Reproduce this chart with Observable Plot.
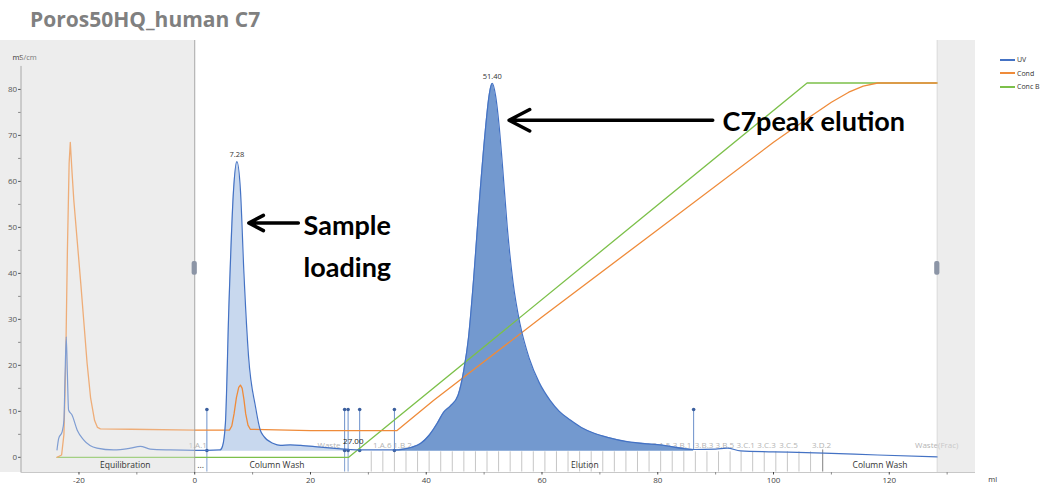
<!DOCTYPE html>
<html><head><meta charset="utf-8">
<script src="https://cdn.jsdelivr.net/npm/d3@7"></script>
<script src="https://cdn.jsdelivr.net/npm/@observablehq/plot@0.6"></script>
<style>
html,body{margin:0;padding:0;background:#fff;}
body{width:1050px;height:484px;overflow:hidden;position:relative;font-family:"Open Sans",sans-serif;}
#title{height:40px;box-sizing:border-box;padding:5px 0 0 30px;font:bold 21px "Open Sans";color:#808080;}
#legend{position:absolute;left:1000px;top:53px;font:7px "Open Sans";color:#333;line-height:13.6px;}
#legend div{display:flex;align-items:center;}
#legend span.l{display:inline-block;width:15px;height:2px;margin-right:2px;}
</style></head>
<body>
<div id="title">Poros50HQ_human C7</div>
<div id="chart"></div>
<div id="legend"></div>
<script>
// ---- data (ml, value) ----
const uvMl  = [-23.8,-23.5,-22.9,-22.6,-22.4,-22.2,-22.0,-21.8,-21.2,-20.3,-19.2,-16.9,-14.0,-11.1,-9.4,-7.7,-4.2,0,2.1,4.4,4.8,5.3,5.9,6.7,7.28,7.9,8.5,9.3,10.5,11.3,11.9,13.6,14.8,16.5,18.3,21.7,25.7,26.8,28.6,30.3,34.4,36.1,37.5,39.0,40.5,41.9,43.0,44.2,45.5,46.5,47.3,48.2,49.2,50.2,50.9,51.4,52.0,52.6,53.2,54.0,55.0,56.2,57.8,59.5,61.4,63.0,64.9,66.8,68.9,71.5,74.7,80.4,86.2,90,92,94.3,100,108.7,118,128.3];
const uvVal = [1.6,4.1,5.6,8,18,26.2,18,10.3,9.2,5.9,3.8,2.0,1.6,2.0,2.4,1.8,1.6,1.5,1.5,1.6,2.4,7.4,32.7,58,64.3,58,40,21.9,11,6.0,4.6,3.0,2.6,2.7,2.6,2.2,1.8,1.7,1.6,1.6,1.6,1.8,2.2,3.0,4.8,7.4,9.8,11.2,13.5,19,26,39,56,71,79,81.3,78.5,72,63,50,38,29,21.5,16.3,12.4,10.0,8.1,6.5,5.3,4.3,3.4,2.7,1.7,1.8,2.0,1.4,1.2,0.9,0.5,0.1];

const condMl  = [-23.8,-23.0,-22.6,-22.3,-22.0,-21.7,-21.5,-21.2,-20.9,-20.3,-19.7,-19.1,-18.6,-18.0,-17.3,-16.8,-16.3,-11,0,6.0,6.4,6.8,7.2,7.6,7.9,8.2,8.5,8.8,9.2,9.6,20,34.9,41.3,60,80,100,106,110,113,115.5,118,128.3];
const condVal = [0,0.5,5,20,45,64,68.5,62,56,47,38,28.5,20.5,13,8,6.5,6.2,6.1,5.9,5.9,6.8,9.5,13,15.2,15.7,15.0,12.6,9.5,7.0,6.1,5.8,5.8,12.4,30.5,49.5,68.5,73.8,77.2,79.4,80.7,81.4,81.4];

const concBMl  = [-23.8,26.6,105.8,128.3];
const concBVal = [0,0,81.4,81.4];

const fillRanges = [[4.4,26.8,"#c8d8ee"],[34.4,86.2,"#7399cf"]];

const markerMl = [2.1,25.9,26.5,28.5,34.5,86.2];
const dividerMl = [2.1,25.9,26.5];
const fracTicks = [30.5,32.5,34.5,36.5,38.5,40.5,42.5,44.5,46.5,48.5,50.5,52.5,54.5,56.5,58.5,60.5,62.5,64.5,66.5,68.5,70.5,72.5,74.5,76.5,78.5,80.5,82.5,84.5,86.5,88.5,90.5,92.5,94.4,96.4,98.4,100.4,102.4,104.4,106.4];

const fracLabels = ["1.A.1","Waste","1.A.6","1.B.2","1.B.4","1.B.6","1.C.2","1.C.4","1.C.6","1.D.2","1.D.4","1.D.6","3.A.1","3.A.3","3.A.5","3.B.1","3.B.3","3.B.5","3.C.1","3.C.3","3.C.5","3.D.2","Waste(Frac)"];
const fracLabelMl = [0.5,23.2,32.4,35.9,40.4,44.4,48.2,52.2,56.3,60.0,63.6,67.8,73.6,77.1,80.6,84.2,88.0,91.6,95.2,98.8,102.6,108.3,128.2];

const phaseLabels = ["Equilibration","...","Column Wash","Elution","Column Wash"];
const phaseMl = [-12,1,14.2,67.4,118.4];

const peakLabels = ["7.28","51.40"];
const peakMl = [7.28,51.4];
const peakVal = [64.3,81.3];

const yTicks = [0,10,20,30,40,50,60,70,80];
const yMinor = [5,15,25,35,45,55,65,75];
const xTicks = [-20,0,20,40,60,80,100,120];
const xMinor = [-10,10,30,50,70,90,110,130];

const legendNames = ["UV","Cond","Conc B"];
const colors = {UV:"#4472c4", Cond:"#ef8b3a", "Conc B":"#7cc04a"};

// ---- build tables ----
const uv = uvMl.map((x,i)=>({x, v: uvVal[i]}));
const cond = condMl.map((x,i)=>({x, v: condVal[i]}));
const concB = concBMl.map((x,i)=>({x, v: concBVal[i]}));
const fracs = fracLabels.map((t,i)=>({t, x: fracLabelMl[i]}));
const phases = phaseLabels.map((t,i)=>({t, x: phaseMl[i]}));
const peaks = peakLabels.map((t,i)=>({t, x: peakMl[i], v: peakVal[i]}));

const yBot = -3.3, yTop = 90.64, xLeftEdge = -33.6, xRight = 134.9, grayEnd = 128.3;

const fills = fillRanges.map(([a,b,c]) => Plot.areaY(uv.filter(d=>d.x>=a && d.x<=b), {x:"x", y1:1.3, y2:"v", curve:"monotone-x", fill:c}));

const chart = Plot.plot({
  width: 1050, height: 444,
  marginLeft: 20.6, marginRight: 75, marginTop: 0, marginBottom: 12,
  x: {domain: [-30, xRight], axis: null},
  y: {domain: [yBot, yTop], axis: null},
  style: {overflow: "visible", fontFamily: "Open Sans", background: "transparent"},
  marks: [
    // shaded inactive regions
    Plot.rect([{x1:xLeftEdge, x2:0},{x1:grayEnd, x2:xRight}], {x1:"x1", x2:"x2", y1:yBot, y2:yTop, fill:"#ededed"}),
    Plot.ruleX([grayEnd], {y1:yBot, y2:yTop, stroke:"#d6d6d6", strokeWidth:1}),
    // axes
    Plot.ruleX([-30], {y1:yBot, y2:85, stroke:"#9a9a9a"}),
    Plot.ruleY([yBot], {x1:-30, x2:xRight, stroke:"#c8c8c8"}),
    Plot.axisY({ticks: yTicks, anchor:"left", tickSize:2.5, tickPadding:1.5, fontSize:8, color:"#555", label:null, tickFormat: d=>String(d)}),
    Plot.axisY({ticks: yMinor, anchor:"left", tickSize:2.5, color:"#888", label:null, tickFormat: ()=>""}),
    Plot.axisX({ticks: xTicks, anchor:"bottom", tickSize:2.5, tickPadding:2.5, fontSize:8, color:"#444", label:null, tickFormat: d=>String(d)}),
    Plot.axisX({ticks: xMinor, anchor:"bottom", tickSize:2.5, color:"#888", label:null, tickFormat: ()=>""}),
    Plot.text(["mS/cm"], {x:-31.5, y:86.9, textAnchor:"start", fontSize:7.5, fill:"#333"}),
    Plot.text(["ml"], {x:137.1, y:-4.95, textAnchor:"start", fontSize:7.5, fill:"#333"}),
    // fraction band
    Plot.ruleX(fracTicks, {y1:-3.2, y2:1.2, stroke:"#b8b8b8", strokeWidth:0.8}),
    Plot.ruleX([108.5], {y1:-3.2, y2:1.6, stroke:"#808080", strokeWidth:1}),
    Plot.ruleX(dividerMl, {y1:-3.2, y2:1.5, stroke:"#7f9fd0", strokeWidth:1}),
    Plot.text(fracs, {x:"x", y:2.6, text:"t", fontSize:8, fill:"#b4b4b4"}),
    // UV fills
    ...fills,
    // markers
    Plot.ruleX(markerMl, {y1:1.5, y2:10.4, stroke:"#6b8fca", strokeWidth:1}),
    Plot.dot(markerMl, {x:d=>d, y:10.4, r:1.8, fill:"#3b5f9e", stroke:null}),
    Plot.dot(markerMl.slice(0,5), {x:d=>d, y:1.5, r:1.8, fill:"#3b5f9e", stroke:null}),
    // curves
    Plot.line(concB, {x:"x", y:"v", stroke:colors["Conc B"], strokeWidth:1.3}),
    Plot.line(cond, {x:"x", y:"v", stroke:colors.Cond, strokeWidth:1.3}),
    Plot.line(uv, {x:"x", y:"v", stroke:colors.UV, strokeWidth:1.2, curve:"monotone-x"}),
    // fade inside the inactive regions
    Plot.rect([{x1:-29.9, x2:0},{x1:grayEnd, x2:xRight}], {x1:"x1", x2:"x2", y1:yBot, y2:yTop, fill:"#ededed", fillOpacity:0.35}),
    Plot.ruleX([0], {y1:yBot, y2:yTop, stroke:"#a6a6a6", strokeWidth:1}),
    Plot.text(phases, {x:"x", y:-1.8, text:"t", fontSize:8.5, fill:"#333"}),
    // labels
    Plot.text(peaks, {x:"x", y:"v", text:"t", dy:-7, fontSize:7.5, fill:"#333"}),
    Plot.text(["27.00"], {x:27.4, y:3.5, fontSize:8, fill:"#222"}),
    // handles
    Plot.rect([{x1:-0.45,x2:0.45},{x1:grayEnd-0.45,x2:grayEnd+0.45}], {x1:"x1", x2:"x2", y1:39.6, y2:42.6, fill:"#8c95a6", rx:2}),
    // annotations
    Plot.arrow([{x1:17.9, y1:50.96, x2:9.33, y2:50.96},{x1:89.5, y1:73.3, x2:54.3, y2:73.3}], {x1:"x1", y1:"y1", x2:"x2", y2:"y2", stroke:"#000", strokeWidth:3.5, headLength:10, headAngle:55}),
    Plot.text([{t:"Sample", x:18.8, v:50.2},{t:"loading", x:18.8, v:41.1},{t:"C7peak elution", x:91.2, v:72.8}], {x:"x", y:"v", text:"t", textAnchor:"start", fontSize:27, fontWeight:"bold", fontFamily:"Lato", fill:"#000"})
  ]
});
document.getElementById("chart").appendChild(chart);

const lg = document.getElementById("legend");
legendNames.forEach(n=>{
  const row = document.createElement("div");
  row.innerHTML = `<span class="l" style="background:${colors[n]}"></span>${n}`;
  lg.appendChild(row);
});
</script>
</body></html>
